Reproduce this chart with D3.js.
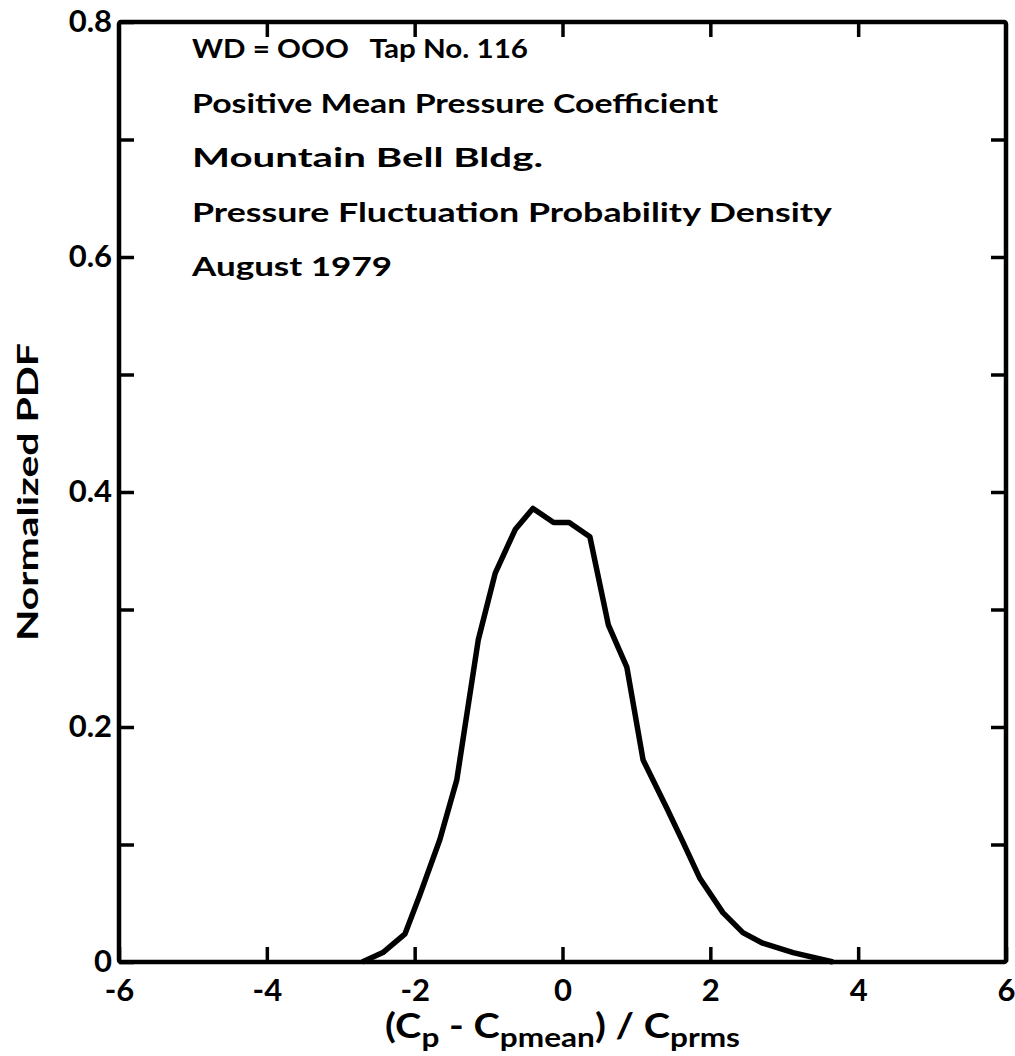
<!DOCTYPE html>
<html>
<head>
<meta charset="utf-8">
<script src="https://cdn.jsdelivr.net/npm/d3@7"></script>
<style>
  body { margin: 0; background: #fff; }
  text { font-family: Lato, "DejaVu Sans", sans-serif; font-weight: bold; fill: #000; white-space: pre; }
</style>
</head>
<body>
<script>
// values
const xVals = [-2.71, -2.43, -2.13, -1.93, -1.66, -1.43, -1.14, -0.91, -0.64, -0.40, -0.12, 0.09, 0.37, 0.62, 0.87, 1.09, 1.41, 1.63, 1.86, 2.17, 2.44, 2.71, 3.12, 3.66];
const pdfVals = [0, 0.008, 0.024, 0.057, 0.104, 0.155, 0.274, 0.331, 0.368, 0.386, 0.374, 0.374, 0.362, 0.287, 0.251, 0.172, 0.131, 0.102, 0.071, 0.042, 0.025, 0.016, 0.008, 0];
const xTicks = [-6, -4, -2, 0, 2, 4, 6];
const yTicks = [0, 0.1, 0.2, 0.3, 0.4, 0.5, 0.6, 0.7, 0.8];
const notes = [
  "WD = OOO   Tap No. 116",
  "Positive Mean Pressure Coefficient",
  "Mountain Bell Bldg.",
  "Pressure Fluctuation Probability Density",
  "August 1979"
];
const noteWidths = [336, 526, 351, 640, 200];

const w = 1015, h = 1056;
const mLeft = 119, mRight = 1006, mTop = 22, mBottom = 962;

const svg = d3.select("body").append("svg")
  .attr("width", w)
  .attr("height", h);

const x = d3.scaleLinear().domain([-6, 6]).range([mLeft, mRight]);
const y = d3.scaleLinear().domain([0, 0.8]).range([mBottom, mTop]);

// frame
svg.append("rect")
  .attr("x", mLeft).attr("y", mTop)
  .attr("width", mRight - mLeft).attr("height", mBottom - mTop)
  .attr("fill", "none").attr("stroke", "#000").attr("stroke-width", 4.5)
  .attr("rx", 2);

const tickLen = 15;

// bottom axis, inward ticks
const xAxis = svg.append("g")
  .attr("transform", `translate(0,${mBottom})`)
  .call(d3.axisBottom(x).tickValues(xTicks).tickSizeInner(-tickLen).tickSizeOuter(0)
    .tickFormat(d => d < 0 ? "-" + Math.abs(d) : d));
xAxis.select(".domain").remove();
xAxis.selectAll("line").attr("stroke-width", 3.5);
xAxis.selectAll("text").attr("font-size", 31).attr("y", 17).attr("dy", "0.72em");

// top axis ticks
const xTop = svg.append("g")
  .attr("transform", `translate(0,${mTop})`)
  .call(d3.axisTop(x).tickValues(xTicks.slice(1, -1)).tickSizeInner(-tickLen).tickSizeOuter(0).tickFormat(""));
xTop.select(".domain").remove();
xTop.selectAll("line").attr("stroke-width", 3.5);

// left axis
const yAxis = svg.append("g")
  .attr("transform", `translate(${mLeft},0)`)
  .call(d3.axisLeft(y).tickValues(yTicks).tickSizeInner(-tickLen).tickSizeOuter(0)
    .tickFormat(d => {
      const k = Math.round(d * 10);
      if (k === 0) return "0";
      return k % 2 === 0 ? d3.format(".1f")(d) : "";
    }));
yAxis.select(".domain").remove();
yAxis.selectAll("line").attr("stroke-width", 3.5);
yAxis.selectAll("text").attr("font-size", 31).attr("x", -7);

// right axis ticks
const yRight = svg.append("g")
  .attr("transform", `translate(${mRight},0)`)
  .call(d3.axisRight(y).tickValues(yTicks.slice(1, -1)).tickSizeInner(-tickLen).tickSizeOuter(0).tickFormat(""));
yRight.select(".domain").remove();
yRight.selectAll("line").attr("stroke-width", 3.5);

// curve
const pts = xVals.map((v, i) => [v, pdfVals[i]]);
svg.append("path")
  .datum(pts)
  .attr("fill", "none")
  .attr("stroke", "#000")
  .attr("stroke-width", 5.5)
  .attr("stroke-linejoin", "round")
  .attr("d", d3.line().x(d => x(d[0])).y(d => y(d[1])));

// annotation block
svg.append("g").selectAll("text")
  .data(notes)
  .enter()
  .append("text")
  .attr("x", 192)
  .attr("y", (d, i) => 58 + i * 54.5)
  .attr("font-size", 26)
  .attr("textLength", (d, i) => noteWidths[i])
  .attr("lengthAdjust", "spacingAndGlyphs")
  .text(d => d);

// x axis title with subscripts
const xt = svg.append("text")
  .attr("x", x(0))
  .attr("y", 1038)
  .attr("text-anchor", "middle")
  .attr("font-size", 34)
  .attr("textLength", 355)
  .attr("lengthAdjust", "spacingAndGlyphs");
xt.append("tspan").text("(C");
xt.append("tspan").attr("font-size", 27).attr("dy", 9).text("p");
xt.append("tspan").attr("dy", -9).text(" - C");
xt.append("tspan").attr("font-size", 27).attr("dy", 9).text("pmean");
xt.append("tspan").attr("dy", -9).text(") / C");
xt.append("tspan").attr("font-size", 27).attr("dy", 9).text("prms");

// y axis title
svg.append("text")
  .attr("transform", `translate(38,${y(0.4)}) rotate(-90)`)
  .attr("text-anchor", "middle")
  .attr("font-size", 28)
  .attr("textLength", 298)
  .attr("lengthAdjust", "spacingAndGlyphs")
  .text("Normalized PDF");
</script>
</body>
</html>
